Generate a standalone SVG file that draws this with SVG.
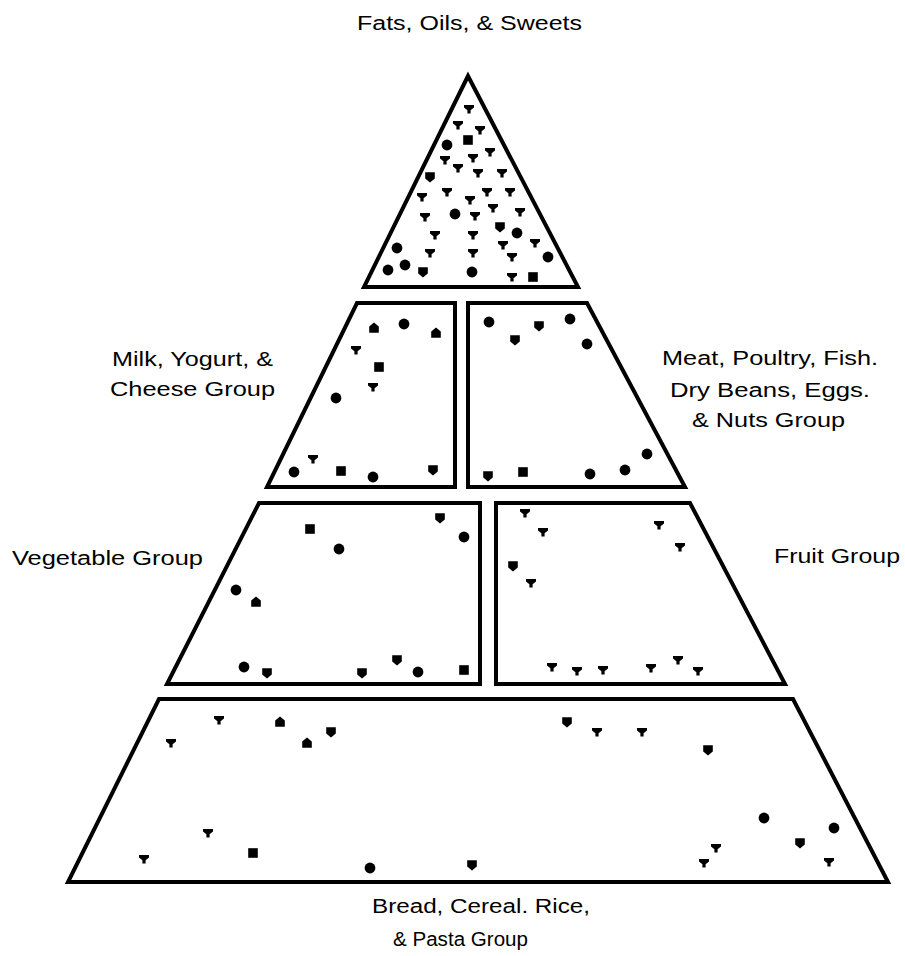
<svg xmlns="http://www.w3.org/2000/svg" xmlns:xlink="http://www.w3.org/1999/xlink" width="905" height="956" viewBox="0 0 905 956">
<style>
.box{fill:#fff;stroke:#000;stroke-width:4;stroke-linejoin:miter;stroke-miterlimit:10}
.lbl{font-family:"Liberation Sans",Arial,sans-serif;font-size:20px;fill:#000}
</style>
<defs>
<path id="t" d="M-5,-4 H5 V-1.5 L1.6,1.2 V4.5 H-1.6 V1.2 L-5,-1.5 Z" fill="#000"/>
<circle id="c" r="5.4" fill="#000"/>
<path id="s" d="M-4.8,-4.8 H4.8 V1.5 L0,5.4 L-4.8,1.5 Z" fill="#000"/>
<path id="h" d="M-4.8,4.8 H4.8 V-1.5 L0,-5.4 L-4.8,-1.5 Z" fill="#000"/>
<rect id="q" x="-4.8" y="-4.8" width="9.6" height="9.6" fill="#000"/>
</defs>
<rect width="905" height="956" fill="#fff"/>

<g id="fats">
<polygon class="box" points="468,76 364,287 578,287"/>
<use href="#t" x="469" y="109"/><use href="#t" x="458" y="125"/><use href="#t" x="480" y="130"/>
<use href="#c" x="447" y="145"/><use href="#q" x="468" y="140"/><use href="#t" x="490" y="152"/>
<use href="#t" x="445" y="160"/><use href="#t" x="473" y="158"/><use href="#t" x="458" y="168"/>
<use href="#s" x="430" y="177"/><use href="#t" x="478" y="173"/><use href="#t" x="502" y="173"/>
<use href="#t" x="422" y="197"/><use href="#t" x="447" y="192"/><use href="#t" x="487" y="192"/>
<use href="#t" x="510" y="192"/><use href="#t" x="470" y="200"/><use href="#t" x="493" y="208"/>
<use href="#t" x="520" y="212"/><use href="#t" x="425" y="217"/><use href="#c" x="455" y="214"/>
<use href="#t" x="475" y="216"/><use href="#s" x="500" y="227"/><use href="#t" x="435" y="235"/>
<use href="#c" x="517" y="233"/><use href="#t" x="473" y="235"/><use href="#t" x="503" y="245"/>
<use href="#t" x="535" y="243"/><use href="#c" x="397" y="248"/><use href="#t" x="430" y="253"/>
<use href="#t" x="473" y="253"/><use href="#t" x="512" y="257"/><use href="#c" x="548" y="257"/>
<use href="#c" x="388" y="270"/><use href="#c" x="405" y="265"/><use href="#s" x="423" y="272"/>
<use href="#c" x="472" y="272"/><use href="#t" x="512" y="277"/><use href="#q" x="533" y="277"/>
<text class="lbl" x="357" y="30" textLength="225" lengthAdjust="spacingAndGlyphs">Fats, Oils, &amp; Sweets</text>
</g>

<g id="milk">
<polygon class="box" points="357,303 455,303 455,487 267,487"/>
<use href="#h" x="374" y="328"/><use href="#c" x="404" y="324"/><use href="#h" x="436" y="333"/>
<use href="#t" x="356" y="350"/><use href="#q" x="379" y="367"/><use href="#t" x="373" y="387"/>
<use href="#c" x="336" y="398"/><use href="#t" x="313" y="459"/><use href="#c" x="294" y="472"/>
<use href="#q" x="341" y="471"/><use href="#c" x="373" y="477"/><use href="#s" x="433" y="470"/>
<text class="lbl" x="112" y="366" textLength="161" lengthAdjust="spacingAndGlyphs">Milk, Yogurt, &amp;</text>
<text class="lbl" x="110" y="396" textLength="165" lengthAdjust="spacingAndGlyphs">Cheese Group</text>
</g>

<g id="meat">
<polygon class="box" points="468,303 587,303 685,487 468,487"/>
<use href="#c" x="489" y="322"/><use href="#s" x="515" y="340"/><use href="#s" x="539" y="326"/>
<use href="#c" x="570" y="319"/><use href="#c" x="587" y="344"/><use href="#s" x="488" y="476"/>
<use href="#q" x="523" y="472"/><use href="#c" x="590" y="474"/><use href="#c" x="625" y="470"/>
<use href="#c" x="647" y="454"/>
<text class="lbl" x="662" y="365" textLength="216" lengthAdjust="spacingAndGlyphs">Meat, Poultry, Fish.</text>
<text class="lbl" x="670" y="397" textLength="200" lengthAdjust="spacingAndGlyphs">Dry Beans, Eggs.</text>
<text class="lbl" x="692" y="427" textLength="153" lengthAdjust="spacingAndGlyphs">&amp; Nuts Group</text>
</g>

<g id="vegetable">
<polygon class="box" points="259,503 480,503 480,684 167,684"/>
<use href="#q" x="310" y="529"/><use href="#c" x="339" y="549"/><use href="#s" x="440" y="518"/>
<use href="#c" x="464" y="537"/><use href="#c" x="236" y="590"/><use href="#h" x="256" y="602"/>
<use href="#c" x="244" y="667"/><use href="#s" x="267" y="673"/><use href="#s" x="362" y="673"/>
<use href="#s" x="397" y="660"/><use href="#c" x="418" y="672"/><use href="#q" x="464" y="670"/>
<text class="lbl" x="12" y="565" textLength="191" lengthAdjust="spacingAndGlyphs">Vegetable Group</text>
</g>

<g id="fruit">
<polygon class="box" points="496,503 690,503 785,684 496,684"/>
<use href="#t" x="525" y="513"/><use href="#t" x="543" y="532"/><use href="#s" x="513" y="566"/>
<use href="#t" x="531" y="583"/><use href="#t" x="659" y="525"/><use href="#t" x="680" y="547"/>
<use href="#t" x="552" y="667"/><use href="#t" x="577" y="671"/><use href="#t" x="603" y="670"/>
<use href="#t" x="651" y="668"/><use href="#t" x="678" y="660"/><use href="#t" x="698" y="671"/>
<text class="lbl" x="774" y="563" textLength="126" lengthAdjust="spacingAndGlyphs">Fruit Group</text>
</g>

<g id="bread">
<polygon class="box" points="159,699 793,699 888,882 68,882"/>
<use href="#t" x="171" y="743"/><use href="#t" x="219" y="720"/><use href="#h" x="280" y="722"/>
<use href="#h" x="307" y="743"/><use href="#s" x="331" y="732"/><use href="#t" x="208" y="833"/>
<use href="#t" x="144" y="859"/><use href="#q" x="253" y="853"/><use href="#c" x="370" y="868"/>
<use href="#s" x="472" y="865"/>
<use href="#s" x="567" y="722"/><use href="#t" x="597" y="732"/><use href="#t" x="642" y="732"/>
<use href="#s" x="708" y="750"/><use href="#c" x="764" y="818"/><use href="#c" x="834" y="828"/>
<use href="#s" x="800" y="843"/><use href="#t" x="716" y="848"/><use href="#t" x="704" y="863"/>
<use href="#t" x="829" y="862"/>
<text class="lbl" x="372" y="913" textLength="218" lengthAdjust="spacingAndGlyphs">Bread, Cereal. Rice,</text>
<text class="lbl" x="393" y="946" textLength="135" lengthAdjust="spacingAndGlyphs">&amp; Pasta Group</text>
</g>
</svg>
